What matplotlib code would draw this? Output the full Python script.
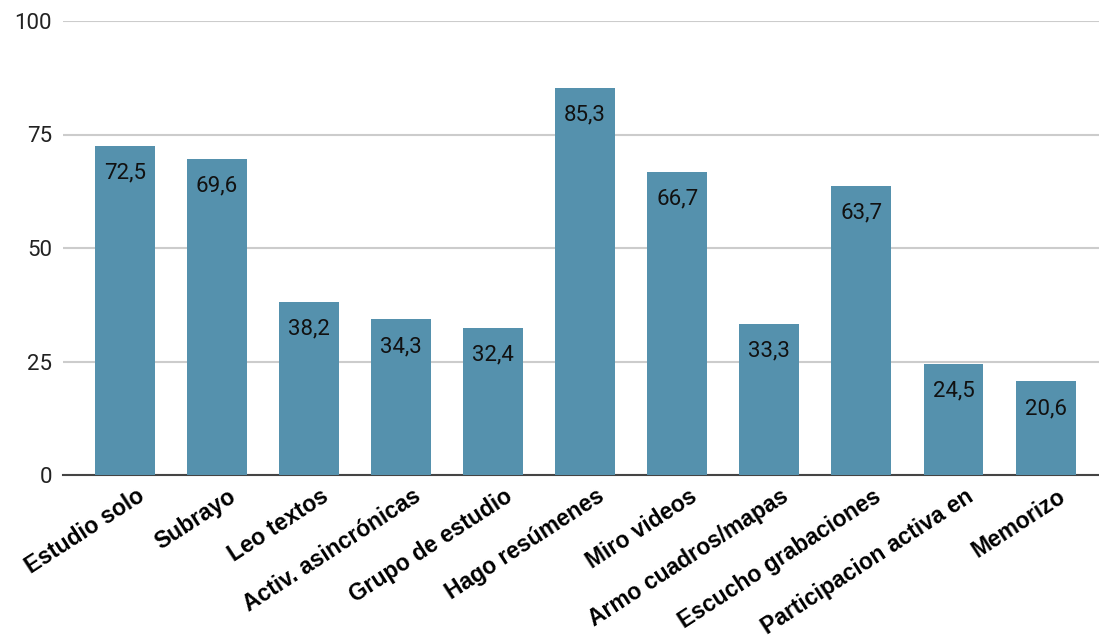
import matplotlib.pyplot as plt
from matplotlib.transforms import ScaledTranslation

categories = ['Estudio solo', 'Subrayo', 'Leo textos', 'Activ. asincrónicas',
              'Grupo de estudio', 'Hago resúmenes', 'Miro videos',
              'Armo cuadros/mapas', 'Escucho grabaciones',
              'Participacion activa en', 'Memorizo']
values = [72.5, 69.6, 38.2, 34.3, 32.4, 85.3, 66.7, 33.3, 63.7, 24.5, 20.6]
yticks = [0, 25, 50, 75, 100]

fig = plt.figure(figsize=(10.99, 6.41), dpi=100)
ax = fig.add_axes([63 / 1099, 1 - 475 / 641, 1036 / 1099, 454 / 641])

x = range(len(values))
bars = ax.bar(x, values, width=0.65, color='#5591ad', zorder=3)
for xi, v in zip(x, values):
    ax.annotate(f'{v:.1f}'.replace('.', ','), (xi, v), xytext=(0, -12),
                textcoords='offset points', ha='center', va='top',
                fontsize=16, family='Roboto', color='#111111', zorder=4)

ax.set_xlim(-0.67, 10.58)
ax.set_ylim(0, 100)
ax.set_yticks(yticks)
ax.set_yticklabels([str(t) for t in yticks], fontsize=16, family='Roboto', color='#222222')
ax.grid(axis='y', color='#cccccc', linewidth=1.5, zorder=0)
for s in ['top', 'right', 'left']:
    ax.spines[s].set_visible(False)
ax.spines['bottom'].set_color('#444444')
ax.spines['bottom'].set_linewidth(1.5)
ax.tick_params(axis='y', length=0, pad=8)
ax.tick_params(axis='x', length=0, pad=4)

ax.set_xticks(list(x))
ax.set_xticklabels(categories, rotation=33, ha='right', rotation_mode='anchor',
                   fontsize=16.5, fontweight='bold', family='Liberation Sans')
for lbl in ax.get_xticklabels():
    lbl.set_transform(lbl.get_transform() + ScaledTranslation(8 / 72, -3 / 72, fig.dpi_scale_trans))

fig.savefig('out.png', dpi=100)
